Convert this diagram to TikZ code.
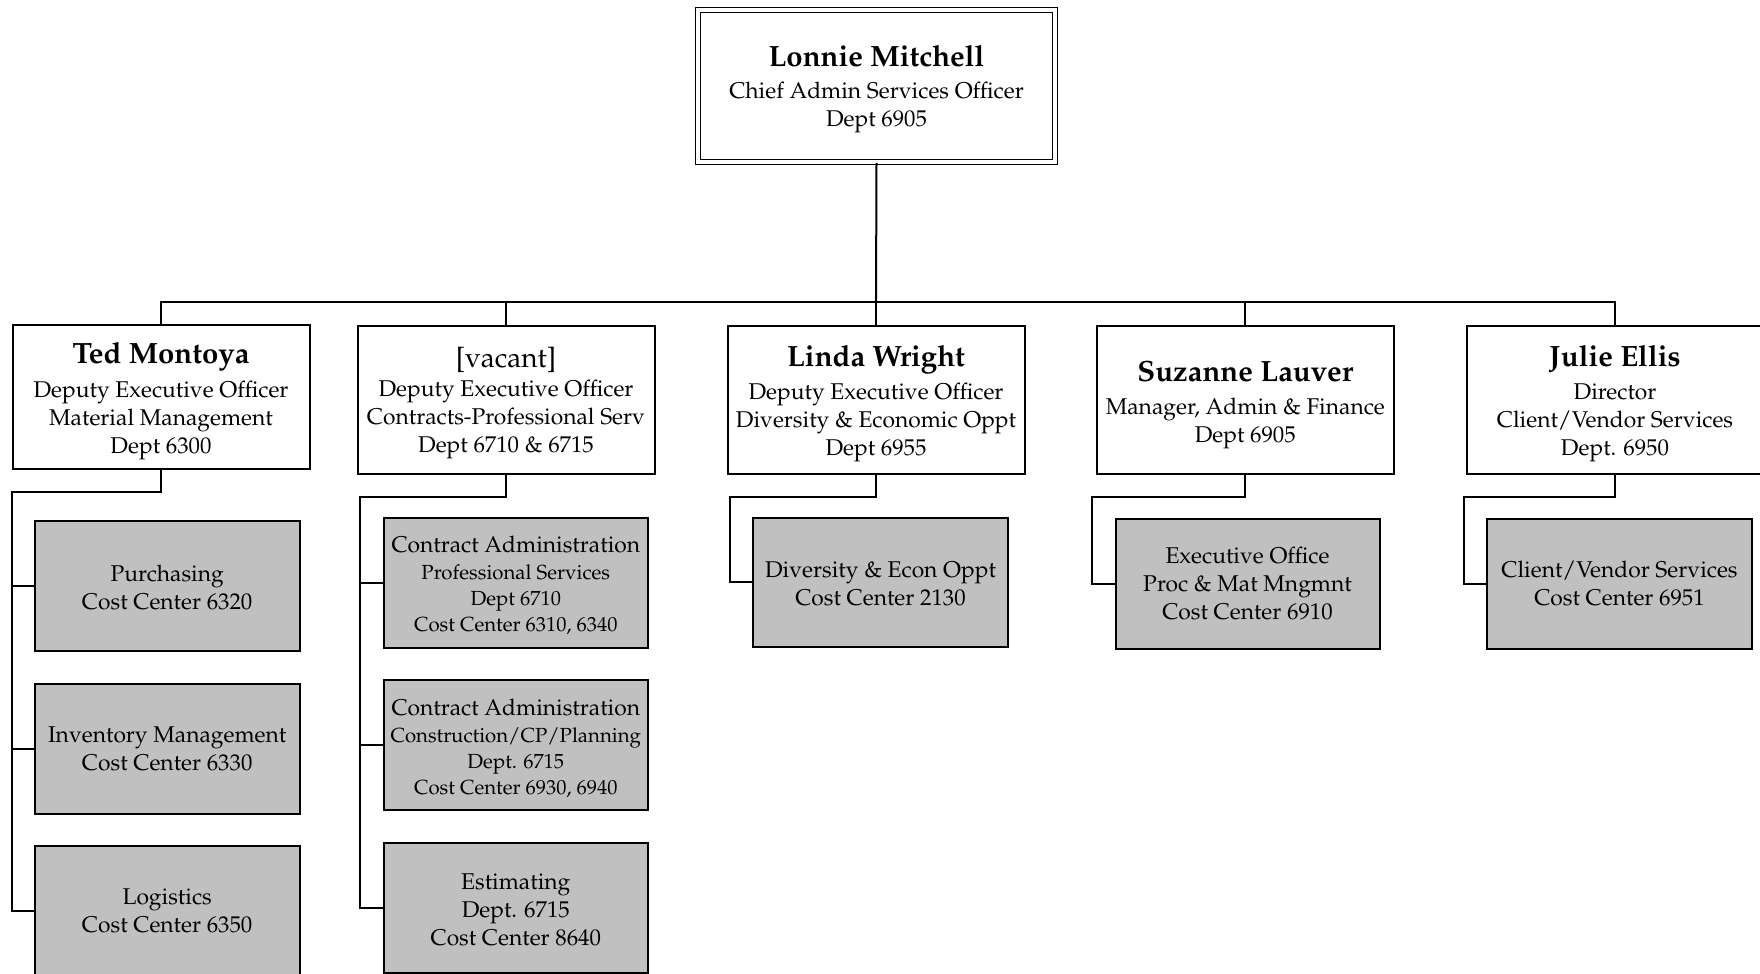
\documentclass[tikz,border=0pt]{standalone}
\usepackage[T1]{fontenc}
\renewcommand{\rmdefault}{ppl}
\definecolor{unitgray}{RGB}{192,192,192}
\newcommand{\mysmall}{\fontsize{15.3}{19.5}\selectfont}
\newcommand{\nmfont}{\fontsize{22}{24}\selectfont\bfseries}
\newcommand{\nmline}[2]{{\nmfont\rule{0pt}{#1}#2}}
\begin{document}
\begin{tikzpicture}[x=0.75pt,y=-0.75pt,
  wire/.style={draw=black, line width=1.5pt},
  mgr/.style={draw=black, fill=white, line width=1.5pt, minimum width=222.75pt, minimum height=111pt, align=center, inner sep=0pt, font=\fontsize{17.1}{21}\selectfont},
  unit/.style={draw=black, fill=unitgray, line width=1.5pt, minimum width=198.5pt, minimum height=97.5pt, align=center, inner sep=0pt, font=\fontsize{17.1}{21}\selectfont},
]
\useasboundingbox (0,0) rectangle (1760,974);

% top
\node[mgr, double, double distance=2.4pt, line width=1.2pt, minimum width=267.75pt, minimum height=114pt] (ceo) at (876.5,86)
  {\nmline{21pt}{Lonnie Mitchell}\\[3.3pt]Chief Admin Services Officer\\Dept 6905};

% managers
\node[mgr, minimum height=108pt] (ted) at (161,397.4)
  {\nmline{21.5pt}{Ted Montoya}\\[4pt]Deputy Executive Officer\\Material Management\\Dept 6300};
\node[mgr] (vac) at (506,399.6)
  {{\fontsize{21}{24}\selectfont\rule{0pt}{20.5pt}[vacant]}\\[1.3pt]Deputy Executive Officer\\Contracts-Professional Serv\\Dept 6710 \& 6715};
\node[mgr] (linda) at (876,399.6)
  {\nmline{21.5pt}{Linda Wright}\\[3.5pt]Deputy Executive Officer\\Diversity \& Economic Oppt\\Dept 6955};
\node[mgr] (suz) at (1245.3,399.6)
  {\nmline{23pt}{Suzanne Lauver}\\[3.5pt]Manager, Admin \& Finance\\Dept 6905};
\node[mgr] (julie) at (1615,399.6)
  {\nmline{21.5pt}{Julie Ellis}\\[3.5pt]Director\\Client/Vendor Services\\Dept. 6950};

% units
\node[unit] (purch) at (167.2,586) {\rule{0pt}{14pt}Purchasing\\Cost Center 6320};
\node[unit] (inv) at (167.2,748.6) {Inventory Management\\Cost Center 6330};
\node[unit] (logi) at (167.2,911.3) {Logistics\\Cost Center 6350};

\node[unit, minimum width=198pt] (caa) at (515.8,582.5)
  {\rule{0pt}{16.5pt}Contract Administration\\[-1pt]{\mysmall Professional Services}\\[-1.5pt]{\mysmall Dept 6710}\\[-1.5pt]{\mysmall Cost Center 6310, 6340}};
\node[unit, minimum width=198pt] (cab) at (515.8,745)
  {\rule{0pt}{17pt}Contract Administration\\[-1pt]{\mysmall Construction/CP/Planning}\\[-1.5pt]{\mysmall Dept. 6715}\\[-1.5pt]{\mysmall Cost Center 6930, 6940}};
\node[unit, minimum width=198pt] (est) at (515.8,907.6)
  {\rule{0pt}{14.5pt}Estimating\\Dept. 6715\\Cost Center 8640};

\node[unit, minimum width=191.25pt, minimum height=96.75pt] (div) at (880.5,582)
  {\rule{0pt}{14pt}Diversity \& Econ Oppt\\Cost Center 2130};
\node[unit, minimum width=198pt] (exec) at (1247.5,583.6)
  {Executive Office\\Proc \& Mat Mngmnt\\Cost Center 6910};
\node[unit] (cvs) at (1619.5,583.6)
  {Client/Vendor Services\\Cost Center 6951};

% top-level connectors
\coordinate (bus) at (876,302);
\draw[wire] (ceo.south) -- (bus);
\draw[wire] (ted.north) |- (bus) -| (julie.north);
\foreach \n in {vac,linda,suz} \draw[wire] (\n.north) -- (\n.north |- bus);

% Ted's units
\coordinate (tedk) at (12.3,491.6);
\draw[wire] (ted.south) |- (tedk) |- (logi.west);
\draw[wire] (tedk |- purch.west) -- (purch.west);
\draw[wire] (tedk |- inv.west) -- (inv.west);

% vacant's units
\coordinate (vack) at (360.3,497.2);
\draw[wire] (vac.south) |- (vack) |- (est.west);
\draw[wire] (vack |- caa.west) -- (caa.west);
\draw[wire] (vack |- cab.west) -- (cab.west);

% Linda
\coordinate (lindak) at (729.6,497.2);
\draw[wire] (linda.south) |- (lindak) |- (div.west);

% Suzanne
\coordinate (suzk) at (1092,497.2);
\draw[wire] (suz.south) |- (suzk) |- (exec.west);

% Julie
\coordinate (juliek) at (1463.6,497.2);
\draw[wire] (julie.south) |- (juliek) |- (cvs.west);
\end{tikzpicture}
\end{document}
